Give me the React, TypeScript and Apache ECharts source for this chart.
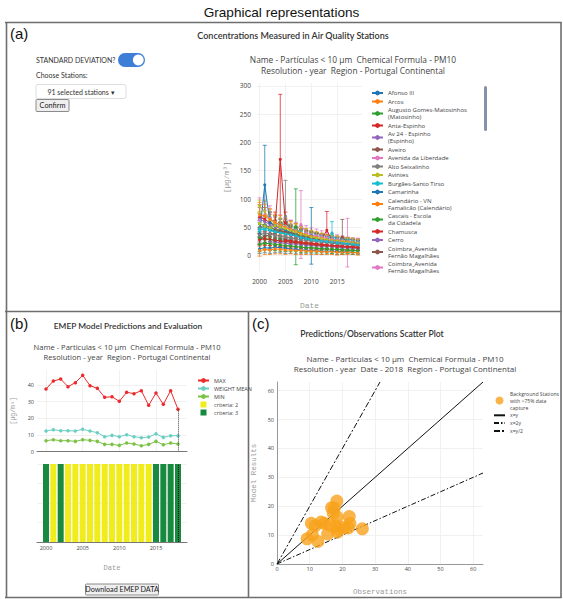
import React, { useEffect, useRef } from 'react';
import * as echarts from 'echarts';

// ---------- Panel (a): concentrations measured in air quality stations ----------
const YEARS = [2000, 2001, 2002, 2003, 2004, 2005, 2006, 2007, 2008, 2009, 2010, 2011, 2012, 2013, 2014, 2015, 2016, 2017, 2018, 2019];

const STATION_NAMES = [
  'Afonso III', 'Arcos', 'Augusto Gomes-Matosinhos (Matosinho)', 'Anta-Espinho', 'Av 24 - Espinho (Espinho)',
  'Aveiro', 'Avenida da Liberdade', 'Alto Seixalinho', 'Avintes', 'Burgães-Santo Tirso', 'Camarinha',
  'Calendário - VN Famalicão (Calendário)', 'Cascais - Escola da Cidadela', 'Chamusca', 'Cerro',
  'Coimbra_Avenida Fernão Magalhães', 'Coimbra_Avenida Fernão Magalhães ',
  'Custóias-Matosinhos', 'Entrecampos', 'Ermesinde-Valongo', 'Fornelo do Monte', 'Lamas de Olo', 'Fundão', 'Ílhavo',
];

const STATION_LABELS = [
  'Afonso III', 'Arcos', 'Augusto Gomes-Matosinhos\n(Matosinho)', 'Anta-Espinho', 'Av 24 - Espinho\n(Espinho)',
  'Aveiro', 'Avenida da Liberdade', 'Alto Seixalinho', 'Avintes', 'Burgães-Santo Tirso', 'Camarinha',
  'Calendário - VN\nFamalicão (Calendário)', 'Cascais - Escola\nda Cidadela', 'Chamusca', 'Cerro',
  'Coimbra_Avenida\nFernão Magalhães', 'Coimbra_Avenida\nFernão Magalhães',
  'Custóias-Matosinhos', 'Entrecampos', 'Ermesinde-Valongo', 'Fornelo do Monte', 'Lamas de Olo', 'Fundão', 'Ílhavo',
];

const LEGEND_STATION_COUNT = 17;

const STATION_MEANS: (number | null)[][] = [
  [48, 52, 45, 43, 41, 40, 37, 35, 31, 30, 28, 29, 26, 24, 23, 21, 22, 20, 19, 18],
  [null, null, null, 47, 45, 43, 40, 37, 34, 32, 30, 28, 27, 25, 24, 23, 22, 21, 21, 20],
  [56, 53, 50, 46, 44, 42, 39, 51, 36, 33, 31, 30, 28, 27, 26, 24, 23, 22, 22, 21],
  [68, 64, 58, 54, 170, 58, 47, 43, 39, 35, 32, 30, 29, 45, 27, 25, 24, 23, 22, 21],
  [64, 60, 55, 51, 48, 45, 42, 39, 36, 33, 31, 29, 28, 26, 25, 24, 23, 22, 21, 20],
  [30, 34, 37, 40, 42, 43, 40, 37, 34, 32, 30, 29, 27, 26, 24, 23, 33, 22, 21, 20],
  [62, 72, 66, 58, 54, 51, 47, 44, 55, 40, 37, 35, 33, 31, 29, 28, 26, 25, 24, 23],
  [50, 54, 51, 47, 45, 70, 41, 39, 36, 34, 32, 30, 28, 27, 26, 25, 24, 23, 22, 21],
  [88, 78, 64, 55, 50, 46, 42, 39, 36, 33, 31, 29, 28, 27, 25, 24, 23, 22, 21, 20],
  [44, 49, 47, 44, 42, 40, 38, 36, 33, 31, 30, 28, 27, 25, 40, 24, 23, 22, 21, 20],
  [38, 125, 58, 53, 49, 45, 41, 38, 35, 33, 35, 30, 28, 26, 25, 24, 23, 22, 21, 20],
  [72, 70, 64, 59, 54, 50, 46, 43, 40, 37, 34, 32, 30, 28, 27, 26, 25, 24, 23, 22],
  [31, 29, 28, 27, 26, 25, 24, 23, 22, 21, 20, 19, 18, 17, 17, 16, 16, 15, 15, 14],
  [null, null, null, null, null, 27, 26, 25, 24, 23, 22, 21, 20, 19, 18, 18, 17, 16, 16, 15],
  [null, null, 24, 24, 23, 22, 21, 21, 20, 19, 18, 18, 17, 17, 16, 15, 15, 14, 14, 13],
  [null, null, null, 45, 43, 41, 39, 37, 35, 33, 31, 30, 28, 27, 26, 25, 24, 24, 23, 22],
  [null, null, null, null, null, null, null, null, null, null, null, null, 27, 26, 25, 24, 24, 23, 22, 22],
  [36, 40, 38, 36, 34, 33, 31, 30, 28, 27, 26, 25, 24, 23, 22, 21, 20, 20, 19, 18],
  [57, 52, 49, 53, 50, 48, 45, 42, 38, 36, 33, 31, 30, 28, 27, 26, 25, 24, 23, 22],
  [47, 46, 44, 42, 40, 38, 37, 35, 32, 30, 28, 27, 26, 25, 24, 23, 22, 21, 20, 19],
  [12, 14, 13, 15, 14, 13, 12, 11, 10, 10, 9, 9, 8, 8, 8, 7, 7, 7, 6, 6],
  [9, 11, 10, 12, 11, 10, 10, 9, 9, 8, 8, 8, 7, 7, 7, 6, 6, 6, 6, 5],
  [20, 22, 21, 20, 19, 18, 17, 16, 15, 14, 14, 13, 12, 12, 11, 11, 10, 10, 9, 9],
  [28, 30, 29, 27, 26, 25, 24, 23, 22, 21, 20, 19, 18, 18, 17, 16, 16, 15, 15, 14],
];

const STATION_SDS: (number | null)[][] = [
  [14, 16, 13, 12, 12, 11, 10, 10, 9, 9, 8, 9, 8, 7, 7, 7, 6, 6, 6, 6],
  [null, null, null, 15, 14, 13, 12, 12, 11, 10, 10, 9, 9, 8, 8, 8, 7, 7, 7, 6],
  [18, 17, 16, 15, 14, 13, 12, 67, 12, 11, 10, 10, 9, 9, 8, 8, 8, 7, 7, 7],
  [22, 21, 19, 18, 115, 19, 15, 14, 13, 12, 11, 10, 10, 33, 9, 9, 8, 8, 7, 7],
  [21, 20, 18, 17, 16, 15, 14, 13, 12, 11, 10, 10, 9, 9, 8, 8, 8, 7, 7, 7],
  [10, 11, 12, 13, 14, 14, 13, 12, 11, 11, 10, 10, 9, 9, 8, 8, 31, 7, 7, 7],
  [40, 24, 22, 19, 18, 17, 16, 15, 60, 13, 12, 12, 11, 10, 10, 9, 9, 8, 8, 8],
  [17, 18, 17, 16, 15, 63, 14, 13, 12, 11, 11, 10, 9, 9, 9, 8, 8, 8, 7, 7],
  [10, 20, 18, 16, 15, 14, 13, 12, 11, 10, 10, 9, 9, 8, 8, 8, 7, 7, 7, 6],
  [15, 16, 15, 14, 14, 13, 12, 12, 11, 10, 10, 9, 9, 8, 20, 8, 7, 7, 7, 6],
  [12, 70, 19, 17, 16, 15, 13, 12, 11, 11, 50, 10, 9, 9, 8, 8, 8, 7, 7, 7],
  [22, 21, 19, 18, 17, 15, 14, 13, 12, 11, 11, 10, 9, 9, 8, 8, 8, 7, 7, 7],
  [11, 10, 10, 9, 9, 9, 8, 8, 8, 7, 7, 7, 6, 6, 6, 6, 5, 5, 5, 5],
  [null, null, null, null, null, 10, 9, 9, 9, 8, 8, 8, 7, 7, 7, 6, 6, 6, 6, 5],
  [null, null, 9, 9, 8, 8, 8, 8, 7, 7, 7, 7, 6, 6, 6, 6, 5, 5, 5, 5],
  [null, null, null, 16, 15, 14, 13, 13, 12, 11, 11, 10, 10, 9, 9, 8, 8, 8, 7, 7],
  [null, null, null, null, null, null, null, null, null, null, null, null, 10, 9, 9, 9, 8, 43, 8, 8],
  [12, 14, 13, 12, 12, 11, 11, 10, 10, 9, 9, 9, 8, 8, 8, 7, 7, 7, 6, 6],
  [19, 18, 17, 18, 17, 16, 15, 14, 13, 12, 11, 11, 10, 9, 9, 9, 8, 8, 8, 7],
  [16, 16, 15, 14, 14, 13, 12, 12, 11, 10, 10, 9, 9, 8, 8, 8, 7, 7, 7, 6],
  [8, 9, 9, 10, 9, 9, 8, 8, 7, 7, 6, 6, 6, 5, 5, 5, 5, 4, 4, 4],
  [10, 9, 8, 9, 8, 8, 7, 7, 7, 6, 6, 6, 5, 5, 5, 5, 4, 4, 4, 4],
  [13, 12, 12, 11, 11, 10, 10, 9, 9, 8, 8, 8, 7, 7, 7, 6, 6, 6, 6, 5],
  [11, 12, 11, 10, 10, 10, 9, 9, 9, 8, 8, 8, 7, 7, 7, 6, 6, 6, 6, 5],
];

const PALETTE = ['#1f77b4', '#ff7f0e', '#2ca02c', '#d62728', '#9467bd', '#8c564b', '#e377c2', '#7f7f7f', '#bcbd22', '#17becf'];

const A_X_TICKS = [2000, 2005, 2010, 2015];
const A_Y_TICKS = [0, 50, 100, 150, 200, 250, 300];

// ---------- Panel (b): EMEP model predictions ----------
const EMEP_YEARS = [2000, 2001, 2002, 2003, 2004, 2005, 2006, 2007, 2008, 2009, 2010, 2011, 2012, 2013, 2014, 2015, 2016, 2017, 2018];
const EMEP_MAX = [37.6, 42.4, 43.6, 39.0, 41.4, 45.8, 39.6, 38.0, 32.6, 33.0, 30.2, 35.6, 34.8, 36.6, 27.8, 35.2, 28.4, 36.6, 25.4];
const EMEP_WEIGHT_MEAN = [12.4, 13.2, 12.6, 12.6, 12.4, 13.4, 12.4, 11.4, 9.0, 9.8, 9.0, 10.2, 9.0, 8.4, 8.8, 10.8, 8.6, 9.6, 9.6];
const EMEP_MIN = [6.6, 7.2, 6.6, 6.6, 6.2, 7.2, 6.8, 6.2, 4.4, 4.4, 3.8, 5.2, 4.6, 3.6, 4.4, 6.2, 4.2, 5.2, 4.6];
const EMEP_CRITERIA = [3, 2, 3, 2, 2, 2, 2, 2, 2, 2, 2, 2, 2, 2, 2, 3, 3, 3, 3];
const B_X_TICKS = [2000, 2005, 2010, 2015];
const B_Y_TICKS = [0, 10, 20, 30, 40];
const SELECTED_YEAR = 2018;

// ---------- Panel (c): predictions / observations scatter ----------
const OBSERVATIONS = [18.3, 17.5, 17.2, 18.4, 22.1, 10.5, 11.7, 14.5, 16.3, 18.2, 22.3, 21.8, 26.1, 9.2, 10.8, 12.5, 15.5, 18.5, 18.8, 16.7, 20.5, 13.5];
const MODEL_RESULTS = [21.8, 19.3, 17.6, 16.2, 16.4, 14.1, 13.2, 14.1, 13.4, 13.2, 14.0, 12.5, 12.2, 8.7, 10.1, 7.8, 10.4, 11.0, 12.0, 19.5, 12.6, 14.5];
const C_TICKS = [0, 10, 20, 30, 40, 50, 60];
const C_MAX = 63;
const SCATTER_NAME = 'Background Stations with >75% data capture';

const SANS = 'Open Sans';
const LATO = 'Lato';
const MONO = 'Liberation Mono';
const GRID_COLOR = '#eeeeee';

function errorBarRender(_params: any, api: any) {
  const x = api.value(0);
  const lo = api.coord([x, api.value(1)]);
  const hi = api.coord([x, api.value(2)]);
  const color = api.visual('color');
  const style = { stroke: color, lineWidth: 0.9, opacity: 0.85 };
  const hw = 2;
  return {
    type: 'group',
    children: [
      { type: 'line', shape: { x1: lo[0], y1: lo[1], x2: hi[0], y2: hi[1] }, style },
      { type: 'line', shape: { x1: lo[0] - hw, y1: lo[1], x2: lo[0] + hw, y2: lo[1] }, style },
      { type: 'line', shape: { x1: hi[0] - hw, y1: hi[1], x2: hi[0] + hw, y2: hi[1] }, style },
    ],
  };
}

function txt(text: string, x: number, y: number, font: string, fill = '#333', align = 'center', rotation = 0) {
  return {
    type: 'text', x, y, rotation, silent: true,
    style: { text, font, fill, textAlign: align, textVerticalAlign: 'middle' },
  };
}

function hline(x1: number, y1: number, x2: number, y2: number) {
  return { type: 'line', silent: true, shape: { x1, y1, x2, y2 }, style: { stroke: '#6e6e6e', lineWidth: 1.6 } };
}

const yearFmt = (v: number) => String(v);

function buildOption() {
  const series: any[] = [];

  // Panel (a)
  STATION_NAMES.forEach((name, i) => {
    const color = PALETTE[i % PALETTE.length];
    const means = STATION_MEANS[i];
    const sds = STATION_SDS[i];
    const lineData: number[][] = [];
    const errData: number[][] = [];
    YEARS.forEach((yr, j) => {
      const m = means[j];
      const s = sds[j];
      if (m == null) return;
      lineData.push([yr, m]);
      if (s != null) errData.push([yr, m - s, m + s]);
    });
    series.push({
      name, type: 'line', xAxisIndex: 0, yAxisIndex: 0, data: lineData,
      symbol: 'circle', symbolSize: 3, color,
      lineStyle: { width: 1, color }, itemStyle: { color }, z: 3,
    });
    series.push({
      name, type: 'custom', xAxisIndex: 0, yAxisIndex: 0, data: errData,
      renderItem: errorBarRender, encode: { x: 0, y: [1, 2] },
      itemStyle: { color }, clip: true, z: 2,
    });
  });

  // Panel (b) lines
  const dotted = { type: 'dotted', color: '#444', width: 1 };
  series.push({
    name: 'MAX', type: 'line', xAxisIndex: 1, yAxisIndex: 1,
    data: EMEP_YEARS.map((y, i) => [y, EMEP_MAX[i]]),
    symbol: 'circle', symbolSize: 3.5, color: '#ee2a2d', lineStyle: { width: 1 },
    markLine: {
      silent: true, symbol: 'none', label: { show: false }, lineStyle: dotted,
      data: [[{ coord: [SELECTED_YEAR, EMEP_MAX[EMEP_YEARS.indexOf(SELECTED_YEAR)]] }, { coord: [SELECTED_YEAR, 0] }]],
    },
  });
  series.push({
    name: 'WEIGHT MEAN', type: 'line', xAxisIndex: 1, yAxisIndex: 1,
    data: EMEP_YEARS.map((y, i) => [y, EMEP_WEIGHT_MEAN[i]]),
    symbol: 'circle', symbolSize: 3.5, color: '#6ccfc4', lineStyle: { width: 1 },
  });
  series.push({
    name: 'MIN', type: 'line', xAxisIndex: 1, yAxisIndex: 1,
    data: EMEP_YEARS.map((y, i) => [y, EMEP_MIN[i]]),
    symbol: 'circle', symbolSize: 3.5, color: '#7bc245', lineStyle: { width: 1 },
  });

  // Panel (b) criteria bars
  series.push({
    name: 'criteria: 2', type: 'bar', xAxisIndex: 2, yAxisIndex: 2,
    data: EMEP_YEARS.filter((_, i) => EMEP_CRITERIA[i] === 2).map((y) => [y, 1]),
    barWidth: 6, barGap: '-100%', color: '#f1ec1c',
  });
  series.push({
    name: 'criteria: 3', type: 'bar', xAxisIndex: 2, yAxisIndex: 2,
    data: EMEP_YEARS.filter((_, i) => EMEP_CRITERIA[i] === 3).map((y) => [y, 1]),
    barWidth: 6, barGap: '-100%', color: '#178a40',
    markLine: {
      silent: true, symbol: 'none', label: { show: false }, lineStyle: { ...dotted, color: '#111' },
      data: [{ xAxis: SELECTED_YEAR }],
    },
  });

  // Panel (c)
  series.push({
    name: SCATTER_NAME, type: 'scatter', xAxisIndex: 3, yAxisIndex: 3,
    data: OBSERVATIONS.map((o, i) => [o, MODEL_RESULTS[i]]),
    symbolSize: 13, color: '#f7a21b', z: 3,
  });
  const refLine = (name: string, data: number[][], type: any) => ({
    name, type: 'line', xAxisIndex: 3, yAxisIndex: 3, symbol: 'none', data, color: '#111',
    lineStyle: { width: 1, color: '#111', type }, itemStyle: { opacity: 0 },
  });
  series.push(refLine('x=y', [[0, 0], [C_MAX, C_MAX]], 'solid'));
  series.push(refLine('x=2y', [[0, 0], [C_MAX, C_MAX / 2]], [5, 2, 1.5, 2]));
  series.push(refLine('x=y/2', [[0, 0], [C_MAX / 2, C_MAX]], [6, 2, 2, 2]));

  const tickLabel = (size: number, margin: number, custom?: number[], fmt?: any) => ({
    fontSize: size, color: '#444', fontFamily: SANS, margin,
    ...(custom ? { customValues: custom } : {}), ...(fmt ? { formatter: fmt } : {}),
  });
  const split = { show: true, lineStyle: { color: GRID_COLOR, width: 0.8 } };
  const axisName = (size: number) => ({ fontFamily: MONO, fontSize: size, color: '#9a9a9a' });

  const square = 'path://M0,0H10V10H0Z';

  return {
    animation: false,
    backgroundColor: '#ffffff',
    grid: [
      { left: 257, top: 83, width: 105, height: 188.5 },
      { left: 37, top: 370, width: 150, height: 81.7 },
      { left: 37, top: 464, width: 150, height: 78 },
      { left: 277, top: 382, width: 206, height: 182 },
    ],
    xAxis: [
      {
        type: 'value', gridIndex: 0, min: 1999.5, max: 2019.8,
        axisLine: { show: false }, axisTick: { show: false, customValues: A_X_TICKS },
        axisLabel: tickLabel(6.5, 6, A_X_TICKS, yearFmt), splitLine: split,
        name: 'Date', nameLocation: 'middle', nameGap: 30, nameTextStyle: axisName(8),
      },
      {
        type: 'value', gridIndex: 1, min: 1998.77, max: 2019.23,
        axisLine: { show: true, lineStyle: { color: '#777', width: 1 } },
        axisTick: { show: false, customValues: B_X_TICKS },
        axisLabel: { show: false, customValues: B_X_TICKS }, splitLine: split,
      },
      {
        type: 'value', gridIndex: 2, min: 1998.77, max: 2019.23,
        axisLine: { show: true, lineStyle: { color: '#777', width: 1 } },
        axisTick: { show: false, customValues: B_X_TICKS },
        axisLabel: tickLabel(5.5, 3, B_X_TICKS, yearFmt), splitLine: { show: false },
        name: 'Date', nameLocation: 'middle', nameGap: 22, nameTextStyle: axisName(7),
      },
      {
        type: 'value', gridIndex: 3, min: 0, max: C_MAX,
        axisLine: { show: true, lineStyle: { color: '#999', width: 1 } },
        axisTick: { show: false, customValues: C_TICKS },
        axisLabel: tickLabel(5.5, 2, C_TICKS), splitLine: split,
        name: 'Observations', nameLocation: 'middle', nameGap: 24, nameTextStyle: axisName(7.5),
      },
    ],
    yAxis: [
      {
        type: 'value', gridIndex: 0, min: -28, max: 305,
        axisLine: { show: false }, axisTick: { show: false, customValues: A_Y_TICKS },
        axisLabel: tickLabel(6.5, 6, A_Y_TICKS), splitLine: split,
        name: '[µg/m³]', nameLocation: 'middle', nameGap: 26, nameRotate: 90, nameTextStyle: axisName(7.5),
      },
      {
        type: 'value', gridIndex: 1, min: 0, max: 49,
        axisLine: { show: false }, axisTick: { show: false, customValues: B_Y_TICKS },
        axisLabel: tickLabel(5.5, 3, B_Y_TICKS), splitLine: split,
        name: '[µg/m³]', nameLocation: 'middle', nameGap: 20, nameRotate: 90, nameTextStyle: axisName(6.5),
      },
      {
        type: 'value', gridIndex: 2, min: 0, max: 1, interval: 0.25,
        axisLine: { show: false }, axisTick: { show: false }, axisLabel: { show: false }, splitLine: split,
      },
      {
        type: 'value', gridIndex: 3, min: 0, max: C_MAX,
        axisLine: { show: true, lineStyle: { color: '#999', width: 1 } },
        axisTick: { show: false, customValues: C_TICKS },
        axisLabel: tickLabel(5.5, 3, C_TICKS), splitLine: split,
        name: 'Model Results', nameLocation: 'middle', nameGap: 19, nameRotate: 90, nameTextStyle: axisName(7.5),
      },
    ],
    legend: [
      {
        data: STATION_NAMES.slice(0, LEGEND_STATION_COUNT),
        orient: 'vertical', left: 366, top: 84.5, itemWidth: 11, itemHeight: 6, itemGap: 1.5,
        textStyle: { fontSize: 6, lineHeight: 7, color: '#444', fontFamily: SANS },
        formatter: (n: string) => STATION_LABELS[STATION_NAMES.indexOf(n)],
        selectedMode: false,
      },
      {
        data: ['MAX', 'WEIGHT MEAN', 'MIN', { name: 'criteria: 2', icon: square }, { name: 'criteria: 3', icon: square }],
        orient: 'vertical', left: 192, top: 372.5, itemWidth: 11, itemHeight: 6, itemGap: 2,
        textStyle: { fontSize: 5.5, lineHeight: 6, color: '#444', fontFamily: SANS },
        selectedMode: false,
      },
      {
        data: [{ name: SCATTER_NAME, icon: 'circle' }, 'x=y', 'x=2y', 'x=y/2'],
        orient: 'vertical', left: 488, top: 385, itemWidth: 11, itemHeight: 8, itemGap: 0.8,
        textStyle: { fontSize: 5.1, lineHeight: 7, color: '#444', fontFamily: SANS },
        formatter: (n: string) => (n === SCATTER_NAME ? 'Background Stations\nwith >75% data\ncapture' : n),
        selectedMode: false,
      },
    ],
    graphic: [
      txt('Graphical representations', 281.5, 12, '13.6px "Liberation Sans"', '#111'),
      // frames
      hline(5, 22.5, 561.5, 22.5),
      hline(6.5, 22, 6.5, 598),
      hline(561, 22, 561, 598),
      hline(5, 311.5, 561.5, 311.5),
      hline(248.5, 311, 248.5, 598),
      hline(5, 597.5, 561.5, 597.5),
      // panel labels
      txt('(a)', 10, 33, '15px "Liberation Sans"', '#111', 'left'),
      txt('(b)', 10, 323, '15px "Liberation Sans"', '#111', 'left'),
      txt('(c)', 252, 323, '15px "Liberation Sans"', '#111', 'left'),
      // panel titles
      txt('Concentrations Measured in Air Quality Stations', 293, 35, `600 9px ${LATO}`, '#333'),
      txt('EMEP Model Predictions and Evaluation', 128, 326, `600 8.4px ${LATO}`, '#333'),
      txt('Predictions/Observations Scatter Plot', 372, 334, `600 8.6px ${LATO}`, '#333'),
      // subtitles
      txt('Name - Partículas < 10 µm  Chemical Formula - PM10', 353, 59, `8.4px "${SANS}"`, '#444'),
      txt('Resolution - year  Region - Portugal Continental', 353, 70, `8.4px "${SANS}"`, '#444'),
      txt('Name - Particulas < 10 µm  Chemical Formula - PM10', 127, 347, `7.6px "${SANS}"`, '#444'),
      txt('Resolution - year  Region - Portugal Continental', 127, 356.5, `7.6px "${SANS}"`, '#444'),
      txt('Name - Particulas < 10 µm  Chemical Formula - PM10', 405, 358, `8px "${SANS}"`, '#444'),
      txt('Resolution - year  Date - 2018  Region - Portugal Continental', 405, 368, `8px "${SANS}"`, '#444'),
      // widgets (a)
      txt('STANDARD DEVIATION?', 36, 60, `7px ${LATO}`, '#333', 'left'),
      { type: 'rect', silent: true, shape: { x: 118, y: 53, width: 27, height: 14, r: 7 }, style: { fill: '#3d7fd6' } },
      { type: 'circle', silent: true, shape: { cx: 138.3, cy: 60, r: 5.4 }, style: { fill: '#ffffff' } },
      txt('Choose Stations:', 36, 74.5, `7px ${LATO}`, '#333', 'left'),
      { type: 'rect', silent: true, shape: { x: 36, y: 84.5, width: 90, height: 14, r: 2 }, style: { fill: '#fff', stroke: '#dddddd', lineWidth: 1 } },
      txt('91 selected stations ▾', 81, 91.5, `7px ${LATO}`, '#333'),
      { type: 'rect', silent: true, shape: { x: 36, y: 99.5, width: 33, height: 12, r: 1 }, style: { fill: '#efefef', stroke: '#8a8a8a', lineWidth: 1 } },
      txt('Confirm', 52.5, 105.7, `7.3px ${LATO}`, '#222'),
      // legend scrollbar (a)
      { type: 'rect', silent: true, shape: { x: 484, y: 86, width: 3, height: 45, r: 1.5 }, style: { fill: '#8790ab' } },
      // download button (b)
      { type: 'rect', silent: true, shape: { x: 85.5, y: 584, width: 73, height: 11, r: 1 }, style: { fill: '#efefef', stroke: '#8a8a8a', lineWidth: 1 } },
      txt('Download EMEP DATA', 122, 589.7, `7.2px ${LATO}`, '#222'),
    ],
    series,
  };
}

export default function App() {
  const ref = useRef<HTMLDivElement>(null);
  useEffect(() => {
    if (!ref.current) return;
    const chart = echarts.init(ref.current, null, { renderer: 'svg' });
    chart.setOption(buildOption() as any);
    return () => chart.dispose();
  }, []);
  return (
    <div
      ref={ref}
      style={{ position: 'fixed', left: 0, top: 0, width: 563, height: 599, background: '#fff' }}
    />
  );
}
